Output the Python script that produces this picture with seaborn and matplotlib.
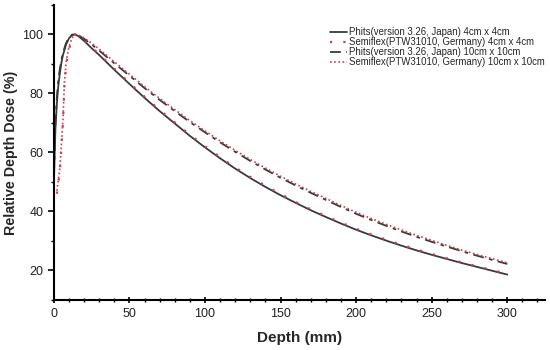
import matplotlib
matplotlib.use("Agg")
import matplotlib.pyplot as plt
import seaborn as sns
import numpy as np
from matplotlib.ticker import MultipleLocator

sns.set_theme(style="ticks")
plt.rcParams['font.family'] = ['Liberation Sans', 'DejaVu Sans']

tail_depth = [30, 40, 50, 60, 70, 80, 90, 100, 110, 120, 130, 140, 150, 160, 170, 180,
              190, 200, 210, 220, 230, 240, 250, 260, 270, 280, 290, 300]

phits_depth = [0, 1, 2, 3, 4, 5, 6, 8, 10, 12, 14, 16, 20, 25] + tail_depth
semi_depth = [2, 3, 4, 5, 6, 7, 8, 9, 10, 12, 14, 16, 20, 25] + tail_depth

phits_4 = [50, 68, 77, 83, 87, 90.5, 93, 96.5, 98.7, 99.8, 100, 99.5, 97.8, 95.3,
           93.0, 88.0, 83.2, 78.5, 74.0, 69.8, 65.6, 61.7, 58.0, 54.5, 51.3, 48.3, 45.5, 42.9,
           40.4, 38.1, 35.9, 33.8, 31.9, 30.1, 28.4, 26.8, 25.3, 23.9, 22.5, 21.2, 19.9, 18.6]
semi_4 = [46, 50, 54, 62, 70, 83, 89, 92.5, 95, 98.3, 100, 99.7, 98.0, 95.6,
          93.3, 88.4, 83.6, 78.9, 74.4, 70.2, 66.0, 62.1, 58.4, 54.9, 51.7, 48.7, 45.9, 43.2,
          40.7, 38.4, 36.2, 34.1, 32.2, 30.4, 28.7, 27.1, 25.6, 24.1, 22.7, 21.4, 20.1, 18.9]
phits_10 = [52, 70, 79, 85, 88.5, 91.5, 93.8, 97, 99, 99.9, 100, 99.7, 98.5, 96.6,
            94.5, 90.2, 86.0, 81.8, 77.8, 74.0, 70.3, 66.8, 63.4, 60.2, 57.1, 54.2, 51.4, 48.8,
            46.3, 43.9, 41.5, 39.2, 37.1, 35.1, 33.2, 31.4, 29.7, 28.1, 26.5, 25.0, 23.6, 22.2]
semi_10 = [47, 51, 55, 63, 71, 84, 90, 93.3, 95.8, 98.8, 100, 99.8, 98.8, 97.0,
           95.0, 90.7, 86.5, 82.3, 78.3, 74.5, 70.8, 67.3, 63.9, 60.7, 57.6, 54.7, 51.9, 49.3,
           46.8, 44.4, 42.0, 39.7, 37.6, 35.6, 33.7, 31.9, 30.2, 28.5, 26.9, 25.4, 24.0, 22.6]

labels = ["Phits(version 3.26, Japan) 4cm x 4cm",
          "Semiflex(PTW31010, Germany) 4cm x 4cm",
          "Phits(version 3.26, Japan) 10cm x 10cm",
          "Semiflex(PTW31010, Germany) 10cm x 10cm"]

dark = "#3a3a3a"
red = "#c8404e"

fig = plt.figure(figsize=(5.5, 3.5), dpi=100)
ax = fig.add_axes([0.098, 0.143, 0.893, 0.843])

sns.lineplot(x=phits_depth, y=phits_4, ax=ax, color=dark, lw=1.3, label=labels[0],
             sort=False, estimator=None)
sns.lineplot(x=semi_depth, y=semi_4, ax=ax, color=red, lw=1.6, label=labels[1],
             linestyle=(0, (1, 5)), sort=False, estimator=None)
sns.lineplot(x=phits_depth, y=phits_10, ax=ax, color=dark, lw=1.3, label=labels[2],
             linestyle=(0, (6, 3, 2, 3)), sort=False, estimator=None)
sns.lineplot(x=semi_depth, y=semi_10, ax=ax, color=red, lw=1.2, label=labels[3],
             linestyle=(0, (1, 1.5)), sort=False, estimator=None)

ax.set_xlim(0, 325)
ax.set_ylim(10, 110)
ax.xaxis.set_major_locator(MultipleLocator(50))
ax.xaxis.set_minor_locator(MultipleLocator(10))
ax.set_yticks([20, 40, 60, 80, 100])
ax.yaxis.set_minor_locator(MultipleLocator(10))
ax.tick_params(axis='both', which='major', labelsize=9, length=4, width=1.2, color='black', labelcolor='#222222')
ax.tick_params(axis='both', which='minor', length=2.5, width=1.0, color='black')
ax.tick_params(axis='x', which='both', direction='inout')
ax.spines['top'].set_visible(False)
ax.spines['right'].set_visible(False)
for s in ['left', 'bottom']:
    ax.spines[s].set_linewidth(1.5)
    ax.spines[s].set_color('black')

ax.set_xlabel("Depth (mm)", fontsize=11, fontweight='bold', labelpad=8)
ax.set_ylabel("Relative Depth Dose (%)", fontsize=10.3, fontweight='bold', labelpad=3)

ax.legend(loc='upper right', bbox_to_anchor=(545 / 550, 1 - 27 / 350),
          bbox_transform=fig.transFigure, frameon=False, fontsize=6.9,
          handlelength=1.8, handletextpad=0.2, labelspacing=0.0,
          borderaxespad=0.0, borderpad=0.0)

fig.savefig("out.png", dpi=100)
